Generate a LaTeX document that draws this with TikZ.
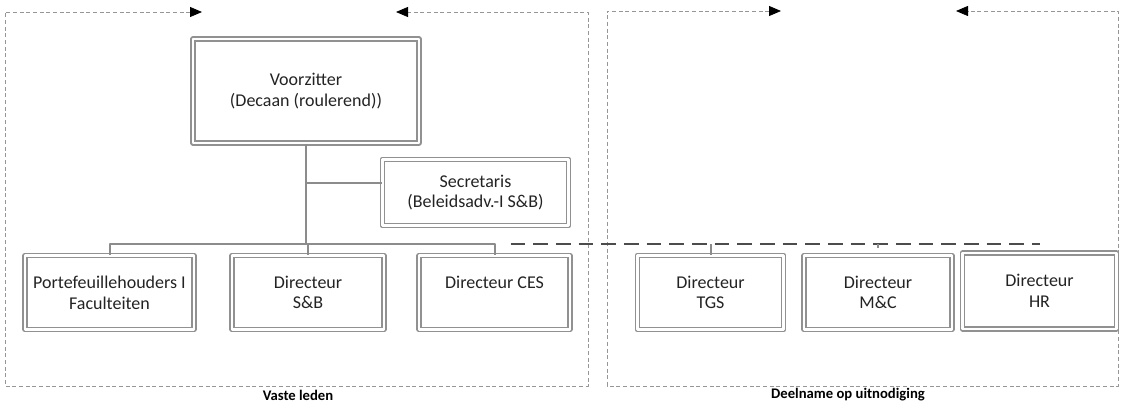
\documentclass[tikz,border=0pt]{standalone}
\usepackage{fontspec}
\setmainfont{Carlito}
\usetikzlibrary{arrows.meta}

\definecolor{boxline}{RGB}{145,145,145}
\definecolor{linkline}{RGB}{140,140,140}
\definecolor{frameline}{RGB}{150,150,150}
\definecolor{txt}{RGB}{35,35,35}

\begin{document}
\begin{tikzpicture}[x=0.75pt,y=-0.75pt,line join=round,
    >={Triangle[black,length=9pt,width=7.5pt]},
    unit/.style={draw=boxline,double=white,double distance=2.2pt,line width=0.8pt,
      align=center,inner sep=2pt,text=txt,font=\fontsize{13.5}{15.5}\selectfont},
    link/.style={draw=linkline,line width=1.5pt},
    invite/.style={draw=black!70,line width=2.2pt,dash pattern=on 11pt off 6pt},
    frame/.style={draw=frameline,line width=0.6pt,dash pattern=on 3pt off 2pt},
    grouplabel/.style={text=black,font=\fontsize{11}{13}\selectfont\bfseries}]
    \useasboundingbox (0,0) rectangle (1121,403);
    \draw[frame,<->] (202,12) -- (5,12) -- (5,386) -- (588,386) -- (588,12) -- (396,12);
    \draw[frame,<->] (781,11) -- (607,11) -- (607,386) -- (1118,386) -- (1118,11) -- (956,11);
    \node[unit,minimum width=169.5pt,minimum height=78pt] (vz) at (306,91) {Voorzitter\\(Decaan (roulerend))};
    \node[unit,minimum width=140pt,minimum height=50pt] (sec) at (475.5,192.5) {Secretaris\\(Beleidsadv.-I S\&B)};
    \node[unit,minimum width=126.75pt,minimum height=56pt] (pf) at (109.5,292.5) {Portefeuillehouders I\\Faculteiten};
    \node[unit,minimum width=114pt,minimum height=56pt] (sb) at (308,292.5) {Directeur\\S\&B};
    \node[unit,minimum width=113.25pt,minimum height=56pt] (ces) at (494.5,292.5) {Directeur CES\\\mbox{}};
    \node[unit,minimum width=110pt,minimum height=56pt] (tgs) at (710.5,292.5) {Directeur\\TGS};
    \node[unit,minimum width=111pt,minimum height=56pt] (mc) at (878,292.5) {Directeur\\M\&C};
    \node[unit,minimum width=116pt,minimum height=57pt] (hr) at (1039.5,291) {Directeur\\HR};
    \coordinate (br) at (306,183);
    \coordinate (bus) at (306,244);
    \draw[link] (vz.south) -- (vz.south |- bus);
    \draw[link] (br) -- (br -| sec.west);
    \draw[link] (pf.north) -- (pf.north |- bus) -- (ces.north |- bus) -- (ces.north);
    \draw[link] (sb.north |- bus) -- (sb.north);
    \draw[invite] ([xshift=12pt]ces.north |- bus) -- (hr.north |- bus);
    \draw[link] (tgs.north |- bus) -- (tgs.north);
    \draw[link] (mc.north |- bus) -- ([yshift=-3pt]mc.north |- bus);
    \node[grouplabel] (vl) at (298,395) {Vaste leden};
    \node[grouplabel] (dn) at (848,395) {Deelname op uitnodiging};
\end{tikzpicture}
\end{document}
